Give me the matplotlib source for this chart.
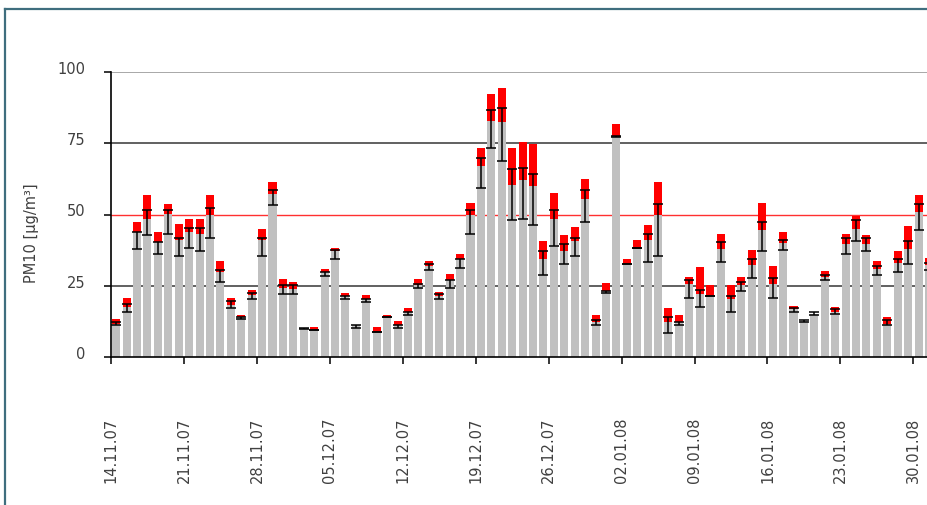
import matplotlib
matplotlib.use("Agg")
import matplotlib.pyplot as plt
from matplotlib.lines import Line2D
from matplotlib.transforms import ScaledTranslation
import numpy as np

# ---- data ----
gray_vals = [11.7, 17.5, 43.9, 48.5, 40.4, 50.3, 40.9, 43.9, 43.3, 49.7,
             29.8, 18.4, 14.0, 21.6, 40.9, 57.3, 24.2, 24.0, 10.0, 9.4,
             29.8, 37.1, 21.4, 11.1, 20.5, 8.8, 14.0, 11.1, 15.8, 25.4,
             31.9, 21.4, 26.9, 34.5, 49.9, 67.0, 82.8, 82.5, 60.5, 62.0,
             60.0, 34.5, 48.5, 37.2, 40.6, 55.6, 12.3, 23.0, 77.5, 32.5,
             38.0, 40.9, 49.7, 12.3, 12.3, 25.7, 22.2, 21.4, 38.0, 20.2,
             25.1, 32.4, 44.4, 25.7, 40.1, 16.7, 12.8, 15.0, 28.1, 15.8,
             39.8, 45.0, 39.8, 31.0, 11.7, 33.1, 38.0, 50.9, 32.2]
red_top = [13.2, 20.7, 47.4, 56.7, 43.9, 53.8, 46.8, 48.3, 48.3, 56.7,
           33.7, 20.7, 14.9, 23.6, 44.8, 61.4, 27.3, 26.3, 10.0, 10.5,
           30.8, 38.4, 22.5, 11.1, 21.6, 10.5, 14.9, 12.5, 17.2, 27.3,
           33.7, 22.8, 29.2, 36.3, 54.0, 73.5, 92.4, 94.4, 73.5, 75.4,
           74.6, 40.7, 57.5, 42.7, 45.5, 62.3, 14.9, 26.1, 81.9, 34.5,
           41.2, 46.4, 61.4, 17.2, 14.9, 28.1, 31.6, 25.1, 43.3, 25.1,
           28.1, 37.7, 54.0, 31.9, 43.9, 17.9, 12.8, 15.0, 30.1, 17.5,
           43.3, 49.5, 42.7, 33.7, 14.0, 37.2, 46.0, 56.7, 34.7]
err_low = [11.1, 15.8, 38.0, 42.7, 36.3, 43.0, 35.4, 38.2, 37.1, 41.9,
           26.3, 17.2, 13.2, 20.5, 35.4, 53.2, 22.2, 22.2, 9.7, 9.4,
           28.4, 34.5, 20.2, 10.2, 19.3, 8.8, 14.0, 10.2, 14.6, 24.2,
           30.6, 20.2, 24.2, 31.3, 43.0, 59.4, 73.3, 68.7, 48.2, 48.5,
           46.2, 28.7, 38.9, 32.5, 35.3, 47.4, 11.1, 22.6, 77.2, 32.5,
           38.2, 33.3, 35.3, 8.5, 11.1, 20.7, 17.5, 21.4, 33.3, 15.8,
           23.0, 27.8, 37.1, 20.7, 37.4, 15.8, 12.3, 14.6, 26.9, 15.0,
           36.3, 40.6, 37.1, 28.7, 11.1, 29.8, 32.5, 44.4, 30.6]
err_high = [12.3, 18.5, 43.9, 51.5, 40.4, 51.5, 41.9, 45.4, 45.4, 52.3,
            30.6, 19.5, 14.0, 22.5, 41.9, 58.5, 25.1, 25.1, 10.2, 9.4,
            29.8, 37.4, 21.3, 11.1, 20.5, 8.8, 14.0, 11.1, 15.8, 25.7,
            32.5, 22.2, 27.1, 34.5, 51.5, 69.8, 86.5, 87.4, 65.8, 66.3,
            64.1, 37.1, 51.5, 39.8, 41.8, 58.5, 12.9, 23.0, 77.5, 32.5,
            38.2, 43.0, 53.8, 14.0, 12.3, 27.1, 23.6, 21.4, 40.4, 21.4,
            26.3, 34.3, 47.4, 27.8, 40.9, 17.2, 13.1, 15.8, 28.9, 16.7,
            41.8, 48.2, 41.8, 31.9, 13.1, 34.5, 40.6, 53.8, 33.1]
tick_days = [0, 7, 14, 21, 28, 35, 42, 49, 56, 63, 70, 77]
tick_labels = ["14.11.07", "21.11.07", "28.11.07", "05.12.07", "12.12.07",
               "19.12.07", "26.12.07", "02.01.08", "09.01.08", "16.01.08",
               "23.01.08", "30.01.08"]
y_ticks = [0, 25, 50, 75, 100]
limit_value = 50

# ---- figure ----
W, H = 927, 506
fig = plt.figure(figsize=(W / 100, H / 100), dpi=100)
plt.rcParams['font.family'] = ['DejaVu Sans']

ax_left = 111 / W
ax_bottom = (H - 358) / H
ax_top = (H - 73) / H
ax = fig.add_axes([ax_left, ax_bottom, 1 - ax_left, ax_top - ax_bottom])

n = len(gray_vals)
x = np.arange(n) + 0.5
g = np.array(gray_vals)
r = np.array(red_top)
lo = np.array(err_low)
hi = np.array(err_high)

# gridlines
ax.axhline(25, color='#606060', lw=1.4, zorder=0)
ax.axhline(75, color='#606060', lw=1.4, zorder=0)
ax.axhline(100, color='#a8a8a8', lw=1.4, zorder=0)
ax.axhline(limit_value, color='#ff3030', lw=1.0, zorder=0)

bw = 0.77
ax.bar(x, g, width=bw, color='#c0c0c0', zorder=2, linewidth=0)
ax.bar(x, r - g, bottom=g, width=bw, color='#ff0000', zorder=3, linewidth=0)
mid = (lo + hi) / 2
half = (hi - lo) / 2
ax.errorbar(x, mid, yerr=half, fmt='none', ecolor='black', elinewidth=1.1,
            capsize=3.9, capthick=1.1, zorder=4)

ax.set_xlim(0, (W - 111) / 10.42)
ax.set_ylim(0, 100)

for s in ['top', 'right']:
    ax.spines[s].set_visible(False)
ax.spines['left'].set_color('black')
ax.spines['bottom'].set_color('black')
ax.spines['left'].set_linewidth(1.2)
ax.spines['bottom'].set_linewidth(1.2)

ax.set_yticks(y_ticks)
ax.set_yticklabels([str(v) for v in y_ticks])
ax.set_xticks(tick_days)
ax.set_xticklabels(tick_labels, rotation=90)
ax.tick_params(axis='y', length=5, width=1.1, pad=17 * 0.72 + 1, labelsize=10.5,
               labelcolor='#404040')
ax.tick_params(axis='x', length=5, width=1.1, pad=38, labelsize=10.5,
               labelcolor='#404040')
off = ScaledTranslation(0, 5 / 100, fig.dpi_scale_trans)
for lab in ax.get_yticklabels():
    lab.set_transform(lab.get_transform() + off)

fig.text(32 / W, 1 - 233 / H, "PM10 [µg/m³]", rotation=90, ha='center',
         va='center', fontsize=10.5, color='#404040')

# outer frame
fc = '#3f6e7e'
fig.add_artist(Line2D([5 / W, 1.0], [1 - 10 / H, 1 - 10 / H], color=fc, lw=1.6,
                      transform=fig.transFigure))
fig.add_artist(Line2D([5 / W, 5 / W], [1 - 10 / H, 0.0], color=fc, lw=1.6,
                      transform=fig.transFigure))

fig.savefig("out.png", dpi=100)
